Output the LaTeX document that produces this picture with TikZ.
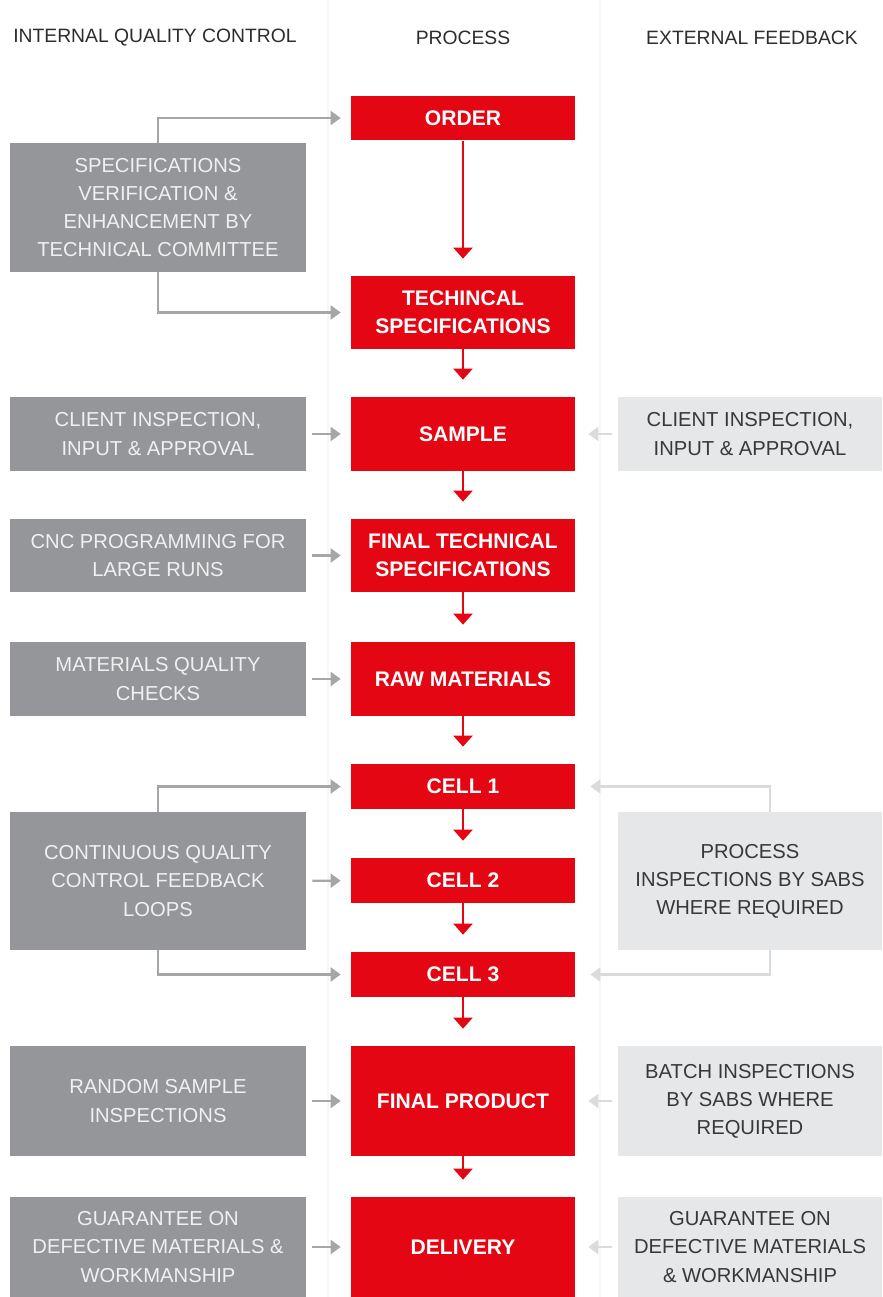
\documentclass[tikz,border=0pt]{standalone}
\usepackage{fontspec}
\setmainfont{Liberation Sans}
\usepackage{tikz}
\usetikzlibrary{arrows.meta}

\definecolor{procred}{RGB}{228,6,19}
\definecolor{darkbox}{RGB}{148,150,153}
\definecolor{lightbox}{RGB}{230,231,232}
\definecolor{intarrow}{RGB}{165,166,168}
\definecolor{extarrow}{RGB}{218,219,220}
\definecolor{headtext}{RGB}{45,45,45}

\tikzset{
  proc/.style={fill=procred, text=white, font=\fontsize{12}{16}\selectfont\bfseries,
    minimum width=4.48cm, align=center, inner sep=0pt},
  intbox/.style={fill=darkbox, text=white!94!black, font=\fontsize{11.5}{16}\selectfont,
    minimum width=5.92cm, align=center, inner sep=0pt},
  extbox/.style={fill=lightbox, text=black!78, font=\fontsize{11.5}{16}\selectfont,
    minimum width=5.28cm, align=center, inner sep=0pt},
  heading/.style={text=headtext, font=\fontsize{11}{13}\selectfont},
  flow/.style={procred, line width=1.3pt, -{Triangle[width=0.38cm,length=0.22cm]}, shorten >=0.34cm},
  intflow/.style={intarrow, line width=1.2pt, -{Triangle[width=0.28cm,length=0.2cm]}},
  extflow/.style={extarrow, line width=1.2pt, -{Triangle[width=0.28cm,length=0.2cm]}}
}

\begin{document}
\begin{tikzpicture}[x=0.02cm,y=-0.02cm]

\useasboundingbox (0,0) rectangle (882,1297);

% column rules
\draw[black!3, line width=1pt] (328,0) -- (328,1297);
\draw[black!3, line width=1pt] (600,0) -- (600,1297);

% headings
\node[heading] (hint) at (155,38) {INTERNAL QUALITY CONTROL};
\node[heading] (hproc) at (463,38) {PROCESS};
\node[heading] (hext) at (752,38) {EXTERNAL FEEDBACK};

% process column
\node[proc, minimum height=0.9cm] (order) at (463,118) {ORDER};
\node[proc, minimum height=1.46cm] (techspec) at (463,312.5) {TECHINCAL\\SPECIFICATIONS};
\node[proc, minimum height=1.48cm] (sample) at (463,434) {SAMPLE};
\node[proc, minimum height=1.46cm] (finalspec) at (463,555.5) {FINAL TECHNICAL\\SPECIFICATIONS};
\node[proc, minimum height=1.48cm] (raw) at (463,679) {RAW MATERIALS};
\node[proc, minimum height=0.9cm] (cell1) at (463,786.5) {CELL 1};
\node[proc, minimum height=0.9cm] (cell2) at (463,880.5) {CELL 2};
\node[proc, minimum height=0.9cm] (cell3) at (463,974.5) {CELL 3};
\node[proc, minimum height=2.2cm] (product) at (463,1101) {FINAL PRODUCT};
\node[proc, minimum height=2.0cm] (delivery) at (463,1247) {DELIVERY};

% internal quality control column
\node[intbox, minimum height=2.58cm] (specver) at (158,207.5) {SPECIFICATIONS\\VERIFICATION \&\\ENHANCEMENT BY\\TECHNICAL COMMITTEE};
\node[intbox, minimum height=1.48cm] (clientint) at (158,434) {CLIENT INSPECTION,\\INPUT \& APPROVAL};
\node[intbox, minimum height=1.46cm] (cnc) at (158,555.5) {CNC PROGRAMMING FOR\\LARGE RUNS};
\node[intbox, minimum height=1.48cm] (matcheck) at (158,679) {MATERIALS QUALITY\\CHECKS};
\node[intbox, minimum height=2.76cm] (loops) at (158,881) {CONTINUOUS QUALITY\\CONTROL FEEDBACK\\LOOPS};
\node[intbox, minimum height=2.2cm] (random) at (158,1101) {RANDOM SAMPLE\\INSPECTIONS};
\node[intbox, minimum height=2.0cm] (guarint) at (158,1247) {GUARANTEE ON\\DEFECTIVE MATERIALS \&\\WORKMANSHIP};

% external feedback column
\node[extbox, minimum height=1.48cm] (clientext) at (750,434) {CLIENT INSPECTION,\\INPUT \& APPROVAL};
\node[extbox, minimum height=2.76cm] (sabs) at (750,881) {PROCESS\\INSPECTIONS BY SABS\\WHERE REQUIRED};
\node[extbox, minimum height=2.2cm] (batch) at (750,1101) {BATCH INSPECTIONS\\BY SABS WHERE\\REQUIRED};
\node[extbox, minimum height=2.0cm] (guarext) at (750,1247) {GUARANTEE ON\\DEFECTIVE MATERIALS\\\& WORKMANSHIP};

% process flow
\draw[flow] (order) -- (techspec);
\draw[flow] (techspec) -- (sample);
\draw[flow] (sample) -- (finalspec);
\draw[flow] (finalspec) -- (raw);
\draw[flow] (raw) -- (cell1);
\draw[flow] (cell1) -- (cell2);
\draw[flow] (cell2) -- (cell3);
\draw[flow] (cell3) -- (product);
\draw[flow] (product) -- (delivery);

% internal arrows
\draw[intflow, shorten >=0.2cm] (specver.north) |- (order.west);
\draw[intflow, shorten >=0.2cm] (specver.south) |- (techspec.west);
\draw[intflow, shorten <=0.12cm, shorten >=0.2cm] (clientint) -- (sample);
\draw[intflow, shorten <=0.12cm, shorten >=0.2cm] (cnc) -- (finalspec);
\draw[intflow, shorten <=0.12cm, shorten >=0.2cm] (matcheck) -- (raw);
\draw[intflow, shorten >=0.2cm] (loops.north) |- (cell1.west);
\draw[intflow, shorten <=0.12cm, shorten >=0.2cm] (loops) -- (cell2);
\draw[intflow, shorten >=0.2cm] (loops.south) |- (cell3.west);
\draw[intflow, shorten <=0.12cm, shorten >=0.2cm] (random) -- (product);
\draw[intflow, shorten <=0.12cm, shorten >=0.2cm] (guarint) -- (delivery);

% external arrows
\draw[extflow, shorten <=0.12cm, shorten >=0.26cm] (clientext) -- (sample);
\draw[extflow, shorten >=0.3cm] ([xshift=0.4cm]sabs.north) |- (cell1.east);
\draw[extflow, shorten >=0.3cm] ([xshift=0.4cm]sabs.south) |- (cell3.east);
\draw[extflow, shorten <=0.12cm, shorten >=0.26cm] (batch) -- (product);
\draw[extflow, shorten <=0.12cm, shorten >=0.26cm] (guarext) -- (delivery);

\end{tikzpicture}
\end{document}
